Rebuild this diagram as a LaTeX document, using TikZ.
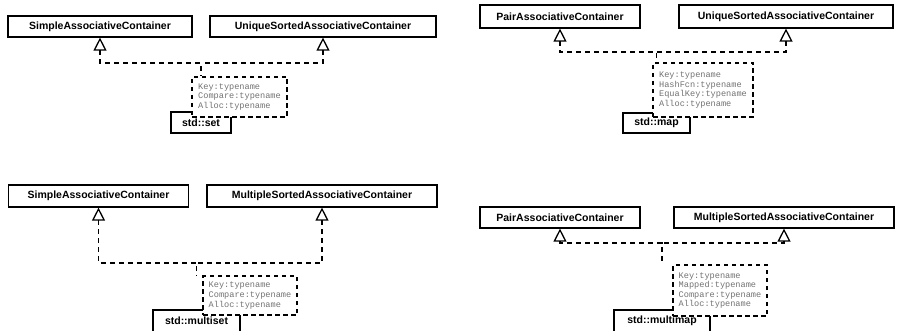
\documentclass[tikz,border=0pt]{standalone}
\usepackage{fontspec}
\setmainfont{Liberation Sans}
\setmonofont{Liberation Mono}
\usepackage{tikz}
\usetikzlibrary{arrows.meta}
\definecolor{tplgray}{gray}{0.45}
\newcommand{\clsname}[1]{\raisebox{-2pt}{#1}}
\tikzset{
  classbox/.style={draw, line width=1.2pt, fill=white, inner sep=0pt, minimum height=21pt,
    font=\fontsize{10.5}{12}\selectfont\bfseries},
  tplbox/.style={draw, dash pattern=on 4.5pt off 3.5pt, line width=1.2pt, fill=white, inner sep=0pt,
    align=left, text=tplgray, font=\fontsize{8.6}{9.6}\selectfont\ttfamily},
  realizes/.style={line width=1.3pt, dash pattern=on 5pt off 4pt,
    arrows={Triangle[open, length=13pt, width=13pt]-}}
}

\begin{document}
\begin{tikzpicture}[x=1pt, y=-1pt]
  \useasboundingbox (0,0) rectangle (902,331);
  % std::set (top left)
  \node[classbox, minimum width=184pt] (simpleA) at (100,26.5) {SimpleAssociativeContainer};
  \node[classbox, minimum width=226pt] (uniqueA) at (323,26.5) {UniqueSortedAssociativeContainer};
  \node[classbox, minimum width=60pt] (setA) at (201,122.5) {\clsname{std::set}};
  \node[tplbox, minimum width=95pt, minimum height=40pt] (tplA) at (239.5,97)
    {Key:typename\\Compare:typename\\Alloc:typename};
  \coordinate (busA) at (0,63);
  \draw[realizes] (simpleA.south) |- (setA.north |- busA) -- (setA.north |- tplA.north);
  \draw[realizes] (uniqueA.south) |- (setA.north |- busA);

  % std::map (top right)
  \node[classbox, minimum width=160pt, minimum height=23pt] (pairB) at (560,16.5) {PairAssociativeContainer};
  \node[classbox, minimum width=214pt, minimum height=23pt] (uniqueB) at (786,16.5) {UniqueSortedAssociativeContainer};
  \node[classbox, minimum width=67pt, minimum height=20pt] (mapB) at (656.5,123) {\clsname{std::map}};
  \node[tplbox, minimum width=100pt, minimum height=54pt] (tplB) at (703,90)
    {Key:typename\\HashFcn:typename\\EqualKey:typename\\Alloc:typename};
  \coordinate (busB) at (0,52);
  \draw[realizes] (pairB.south) |- (mapB.north |- busB) -- (mapB.north |- tplB.north);
  \draw[realizes] (uniqueB.south) |- (mapB.north |- busB);

  % std::multiset (bottom left)
  \node[classbox, minimum width=180pt, minimum height=22pt] (simpleC) at (98.5,196) {SimpleAssociativeContainer};
  \node[classbox, minimum width=230pt, minimum height=22pt] (multiC) at (322,196) {MultipleSortedAssociativeContainer};
  \node[classbox, minimum width=87pt, minimum height=22pt] (multisetC) at (196.5,321) {\clsname{std::multiset}};
  \node[tplbox, minimum width=94pt, minimum height=39pt] (tplC) at (250,295.5)
    {Key:typename\\Compare:typename\\Alloc:typename};
  \coordinate (busC) at (0,263);
  \draw[realizes] (simpleC.south) |- (multisetC.north |- busC) -- (multisetC.north |- tplC.north);
  \draw[realizes] (multiC.south) |- (multisetC.north |- busC);

  % std::multimap (bottom right)
  \node[classbox, minimum width=160pt] (pairD) at (560,217.5) {PairAssociativeContainer};
  \node[classbox, minimum width=220pt] (multiD) at (784,217.5) {MultipleSortedAssociativeContainer};
  \node[classbox, minimum width=96pt, minimum height=22pt] (multimapD) at (662,321) {\clsname{std::multimap}};
  \node[tplbox, minimum width=94pt, minimum height=51pt] (tplD) at (720,290.5)
    {Key:typename\\Mapped:typename\\Compare:typename\\Alloc:typename};
  \coordinate (busD) at (0,243);
  \draw[realizes] (pairD.south) |- (multimapD.north |- busD) -- (multimapD.north |- tplD.north);
  \draw[realizes] (multiD.south) |- (multimapD.north |- busD);
\end{tikzpicture}
\end{document}
